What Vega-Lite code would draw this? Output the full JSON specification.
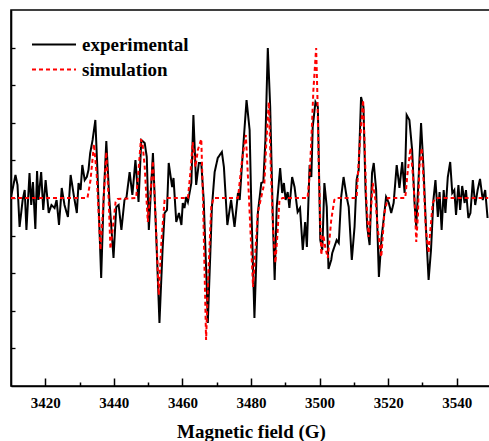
{
  "$schema": "https://vega.github.io/schema/vega-lite/v6.json",
  "autosize": {"type": "none"},
  "padding": {"left": 11, "top": 10, "right": 0, "bottom": 55},
  "width": 480,
  "height": 376,
  "background": "white",
  "config": {
    "view": {"stroke": "black", "strokeWidth": 1.6},
    "font": "Liberation Serif"
  },
  "data": {"values": [
    {"B":3410.0,"I":1,"s":"experimental"},{"B":3411.3,"I":23,"s":"experimental"},{"B":3411.9,"I":13,"s":"experimental"},{"B":3412.5,"I":-29,"s":"experimental"},{"B":3413.4,"I":-2,"s":"experimental"},{"B":3414.0,"I":8,"s":"experimental"},{"B":3414.5,"I":-32,"s":"experimental"},{"B":3415.4,"I":25,"s":"experimental"},{"B":3415.9,"I":-7,"s":"experimental"},{"B":3416.4,"I":16,"s":"experimental"},{"B":3417.1,"I":-31,"s":"experimental"},{"B":3417.6,"I":27,"s":"experimental"},{"B":3418.0,"I":-2,"s":"experimental"},{"B":3418.8,"I":26,"s":"experimental"},{"B":3419.4,"I":-12,"s":"experimental"},{"B":3420.1,"I":18,"s":"experimental"},{"B":3421.0,"I":-15,"s":"experimental"},{"B":3421.8,"I":-7,"s":"experimental"},{"B":3422.7,"I":-10,"s":"experimental"},{"B":3423.3,"I":-2,"s":"experimental"},{"B":3424.0,"I":-27,"s":"experimental"},{"B":3424.8,"I":10,"s":"experimental"},{"B":3425.6,"I":-7,"s":"experimental"},{"B":3426.6,"I":-19,"s":"experimental"},{"B":3427.4,"I":23,"s":"experimental"},{"B":3428.3,"I":3,"s":"experimental"},{"B":3429.2,"I":-15,"s":"experimental"},{"B":3429.7,"I":15,"s":"experimental"},{"B":3430.3,"I":8,"s":"experimental"},{"B":3430.8,"I":33,"s":"experimental"},{"B":3431.5,"I":18,"s":"experimental"},{"B":3432.1,"I":21,"s":"experimental"},{"B":3432.6,"I":28,"s":"experimental"},{"B":3433.1,"I":45,"s":"experimental"},{"B":3433.8,"I":58,"s":"experimental"},{"B":3434.6,"I":78,"s":"experimental"},{"B":3435.2,"I":28,"s":"experimental"},{"B":3436.3,"I":-80,"s":"experimental"},{"B":3437.0,"I":-2,"s":"experimental"},{"B":3437.8,"I":57,"s":"experimental"},{"B":3438.7,"I":-2,"s":"experimental"},{"B":3439.9,"I":-60,"s":"experimental"},{"B":3440.7,"I":-9,"s":"experimental"},{"B":3441.4,"I":-7,"s":"experimental"},{"B":3442.2,"I":-32,"s":"experimental"},{"B":3443.1,"I":-2,"s":"experimental"},{"B":3443.7,"I":1,"s":"experimental"},{"B":3444.6,"I":26,"s":"experimental"},{"B":3445.4,"I":3,"s":"experimental"},{"B":3446.3,"I":38,"s":"experimental"},{"B":3447.2,"I":-4,"s":"experimental"},{"B":3448.0,"I":58,"s":"experimental"},{"B":3449.0,"I":55,"s":"experimental"},{"B":3449.6,"I":41,"s":"experimental"},{"B":3450.2,"I":-32,"s":"experimental"},{"B":3451.4,"I":45,"s":"experimental"},{"B":3452.4,"I":-42,"s":"experimental"},{"B":3453.3,"I":-125,"s":"experimental"},{"B":3454.2,"I":-52,"s":"experimental"},{"B":3454.8,"I":-15,"s":"experimental"},{"B":3455.5,"I":-12,"s":"experimental"},{"B":3456.0,"I":35,"s":"experimental"},{"B":3457.0,"I":11,"s":"experimental"},{"B":3457.4,"I":20,"s":"experimental"},{"B":3458.2,"I":-24,"s":"experimental"},{"B":3459.0,"I":-15,"s":"experimental"},{"B":3459.7,"I":-27,"s":"experimental"},{"B":3460.1,"I":-5,"s":"experimental"},{"B":3460.6,"I":-10,"s":"experimental"},{"B":3461.1,"I":1,"s":"experimental"},{"B":3461.6,"I":-4,"s":"experimental"},{"B":3462.6,"I":15,"s":"experimental"},{"B":3463.2,"I":83,"s":"experimental"},{"B":3464.0,"I":13,"s":"experimental"},{"B":3464.8,"I":35,"s":"experimental"},{"B":3465.5,"I":35,"s":"experimental"},{"B":3466.2,"I":-2,"s":"experimental"},{"B":3467.1,"I":-89,"s":"experimental"},{"B":3467.4,"I":-125,"s":"experimental"},{"B":3468.1,"I":-59,"s":"experimental"},{"B":3468.6,"I":-9,"s":"experimental"},{"B":3469.4,"I":26,"s":"experimental"},{"B":3470.3,"I":40,"s":"experimental"},{"B":3471.5,"I":46,"s":"experimental"},{"B":3472.1,"I":31,"s":"experimental"},{"B":3473.1,"I":-27,"s":"experimental"},{"B":3474.2,"I":-2,"s":"experimental"},{"B":3475.2,"I":-29,"s":"experimental"},{"B":3476.2,"I":5,"s":"experimental"},{"B":3476.7,"I":-2,"s":"experimental"},{"B":3477.4,"I":35,"s":"experimental"},{"B":3478.7,"I":98,"s":"experimental"},{"B":3479.6,"I":68,"s":"experimental"},{"B":3480.1,"I":-9,"s":"experimental"},{"B":3481.0,"I":-120,"s":"experimental"},{"B":3482.0,"I":-15,"s":"experimental"},{"B":3483.0,"I":15,"s":"experimental"},{"B":3483.6,"I":16,"s":"experimental"},{"B":3484.2,"I":58,"s":"experimental"},{"B":3484.9,"I":150,"s":"experimental"},{"B":3485.6,"I":91,"s":"experimental"},{"B":3486.4,"I":-25,"s":"experimental"},{"B":3486.9,"I":-82,"s":"experimental"},{"B":3487.5,"I":-9,"s":"experimental"},{"B":3488.5,"I":30,"s":"experimental"},{"B":3489.1,"I":5,"s":"experimental"},{"B":3489.6,"I":15,"s":"experimental"},{"B":3490.1,"I":-2,"s":"experimental"},{"B":3490.7,"I":6,"s":"experimental"},{"B":3491.2,"I":-10,"s":"experimental"},{"B":3492.0,"I":21,"s":"experimental"},{"B":3492.7,"I":11,"s":"experimental"},{"B":3493.6,"I":-14,"s":"experimental"},{"B":3494.3,"I":-10,"s":"experimental"},{"B":3495.1,"I":-52,"s":"experimental"},{"B":3495.8,"I":-24,"s":"experimental"},{"B":3496.3,"I":-49,"s":"experimental"},{"B":3497.1,"I":33,"s":"experimental"},{"B":3497.6,"I":21,"s":"experimental"},{"B":3498.0,"I":71,"s":"experimental"},{"B":3498.8,"I":96,"s":"experimental"},{"B":3499.5,"I":91,"s":"experimental"},{"B":3500.2,"I":-42,"s":"experimental"},{"B":3500.8,"I":-52,"s":"experimental"},{"B":3501.4,"I":15,"s":"experimental"},{"B":3502.1,"I":-9,"s":"experimental"},{"B":3502.6,"I":-71,"s":"experimental"},{"B":3503.4,"I":-62,"s":"experimental"},{"B":3503.7,"I":-55,"s":"experimental"},{"B":3504.3,"I":-49,"s":"experimental"},{"B":3505.0,"I":-42,"s":"experimental"},{"B":3505.6,"I":-45,"s":"experimental"},{"B":3506.3,"I":1,"s":"experimental"},{"B":3507.0,"I":21,"s":"experimental"},{"B":3507.9,"I":1,"s":"experimental"},{"B":3508.5,"I":-9,"s":"experimental"},{"B":3509.4,"I":-62,"s":"experimental"},{"B":3510.2,"I":-29,"s":"experimental"},{"B":3510.8,"I":18,"s":"experimental"},{"B":3511.4,"I":28,"s":"experimental"},{"B":3512.1,"I":101,"s":"experimental"},{"B":3512.8,"I":91,"s":"experimental"},{"B":3513.4,"I":8,"s":"experimental"},{"B":3513.9,"I":-29,"s":"experimental"},{"B":3514.6,"I":-47,"s":"experimental"},{"B":3515.3,"I":25,"s":"experimental"},{"B":3515.8,"I":35,"s":"experimental"},{"B":3516.5,"I":8,"s":"experimental"},{"B":3517.3,"I":-79,"s":"experimental"},{"B":3518.1,"I":-39,"s":"experimental"},{"B":3518.9,"I":-15,"s":"experimental"},{"B":3519.4,"I":1,"s":"experimental"},{"B":3520.2,"I":-5,"s":"experimental"},{"B":3520.9,"I":-15,"s":"experimental"},{"B":3521.6,"I":-5,"s":"experimental"},{"B":3522.5,"I":33,"s":"experimental"},{"B":3523.3,"I":10,"s":"experimental"},{"B":3524.1,"I":36,"s":"experimental"},{"B":3524.8,"I":5,"s":"experimental"},{"B":3525.4,"I":83,"s":"experimental"},{"B":3526.2,"I":78,"s":"experimental"},{"B":3527.0,"I":48,"s":"experimental"},{"B":3527.7,"I":-5,"s":"experimental"},{"B":3528.2,"I":-29,"s":"experimental"},{"B":3528.9,"I":21,"s":"experimental"},{"B":3529.6,"I":75,"s":"experimental"},{"B":3530.3,"I":31,"s":"experimental"},{"B":3531.1,"I":-35,"s":"experimental"},{"B":3531.8,"I":-82,"s":"experimental"},{"B":3532.5,"I":-52,"s":"experimental"},{"B":3533.2,"I":-2,"s":"experimental"},{"B":3533.8,"I":18,"s":"experimental"},{"B":3534.5,"I":-19,"s":"experimental"},{"B":3535.0,"I":6,"s":"experimental"},{"B":3535.6,"I":-32,"s":"experimental"},{"B":3536.2,"I":8,"s":"experimental"},{"B":3536.7,"I":-15,"s":"experimental"},{"B":3537.4,"I":21,"s":"experimental"},{"B":3538.1,"I":36,"s":"experimental"},{"B":3538.7,"I":5,"s":"experimental"},{"B":3539.3,"I":8,"s":"experimental"},{"B":3539.8,"I":-17,"s":"experimental"},{"B":3540.5,"I":13,"s":"experimental"},{"B":3541.0,"I":-12,"s":"experimental"},{"B":3541.6,"I":12,"s":"experimental"},{"B":3542.3,"I":-5,"s":"experimental"},{"B":3542.7,"I":8,"s":"experimental"},{"B":3543.4,"I":-20,"s":"experimental"},{"B":3544.0,"I":-15,"s":"experimental"},{"B":3544.7,"I":18,"s":"experimental"},{"B":3545.4,"I":-7,"s":"experimental"},{"B":3546.1,"I":8,"s":"experimental"},{"B":3546.8,"I":19,"s":"experimental"},{"B":3547.6,"I":-2,"s":"experimental"},{"B":3548.3,"I":8,"s":"experimental"},{"B":3549.0,"I":-20,"s":"experimental"},
    {"B":3410.0,"I":0,"s":"simulation"},{"B":3432.3,"I":0,"s":"simulation"},{"B":3433.2,"I":18,"s":"simulation"},{"B":3434.2,"I":54,"s":"simulation"},{"B":3435.0,"I":23,"s":"simulation"},{"B":3436.1,"I":-52,"s":"simulation"},{"B":3437.0,"I":-2,"s":"simulation"},{"B":3437.8,"I":46,"s":"simulation"},{"B":3438.5,"I":-2,"s":"simulation"},{"B":3439.0,"I":-51,"s":"simulation"},{"B":3439.8,"I":-27,"s":"simulation"},{"B":3440.5,"I":-4,"s":"simulation"},{"B":3441.1,"I":-1,"s":"simulation"},{"B":3446.5,"I":0,"s":"simulation"},{"B":3447.2,"I":28,"s":"simulation"},{"B":3447.9,"I":59,"s":"simulation"},{"B":3448.4,"I":53,"s":"simulation"},{"B":3449.0,"I":31,"s":"simulation"},{"B":3449.9,"I":-24,"s":"simulation"},{"B":3450.6,"I":3,"s":"simulation"},{"B":3451.4,"I":37,"s":"simulation"},{"B":3452.2,"I":-22,"s":"simulation"},{"B":3453.1,"I":-97,"s":"simulation"},{"B":3453.9,"I":-42,"s":"simulation"},{"B":3454.8,"I":-2,"s":"simulation"},{"B":3455.4,"I":0,"s":"simulation"},{"B":3461.6,"I":0,"s":"simulation"},{"B":3462.4,"I":28,"s":"simulation"},{"B":3463.0,"I":56,"s":"simulation"},{"B":3463.8,"I":31,"s":"simulation"},{"B":3464.5,"I":48,"s":"simulation"},{"B":3465.5,"I":59,"s":"simulation"},{"B":3466.0,"I":-2,"s":"simulation"},{"B":3466.9,"I":-142,"s":"simulation"},{"B":3467.6,"I":-72,"s":"simulation"},{"B":3468.4,"I":-9,"s":"simulation"},{"B":3469.1,"I":0,"s":"simulation"},{"B":3476.2,"I":0,"s":"simulation"},{"B":3477.4,"I":38,"s":"simulation"},{"B":3478.5,"I":63,"s":"simulation"},{"B":3479.3,"I":8,"s":"simulation"},{"B":3480.6,"I":-89,"s":"simulation"},{"B":3481.3,"I":-52,"s":"simulation"},{"B":3482.0,"I":-14,"s":"simulation"},{"B":3483.0,"I":1,"s":"simulation"},{"B":3483.9,"I":15,"s":"simulation"},{"B":3484.5,"I":58,"s":"simulation"},{"B":3485.2,"I":96,"s":"simulation"},{"B":3485.8,"I":28,"s":"simulation"},{"B":3486.4,"I":-29,"s":"simulation"},{"B":3487.1,"I":-65,"s":"simulation"},{"B":3487.7,"I":-37,"s":"simulation"},{"B":3488.3,"I":-2,"s":"simulation"},{"B":3489.2,"I":0,"s":"simulation"},{"B":3496.5,"I":0,"s":"simulation"},{"B":3497.1,"I":23,"s":"simulation"},{"B":3497.6,"I":58,"s":"simulation"},{"B":3498.2,"I":108,"s":"simulation"},{"B":3499.0,"I":150,"s":"simulation"},{"B":3499.4,"I":98,"s":"simulation"},{"B":3499.8,"I":25,"s":"simulation"},{"B":3500.5,"I":-57,"s":"simulation"},{"B":3501.1,"I":-37,"s":"simulation"},{"B":3501.7,"I":-50,"s":"simulation"},{"B":3502.4,"I":-60,"s":"simulation"},{"B":3503.4,"I":-22,"s":"simulation"},{"B":3504.3,"I":-2,"s":"simulation"},{"B":3504.9,"I":0,"s":"simulation"},{"B":3510.8,"I":0,"s":"simulation"},{"B":3511.6,"I":48,"s":"simulation"},{"B":3512.7,"I":98,"s":"simulation"},{"B":3513.1,"I":58,"s":"simulation"},{"B":3513.6,"I":1,"s":"simulation"},{"B":3514.3,"I":-39,"s":"simulation"},{"B":3515.0,"I":-12,"s":"simulation"},{"B":3515.5,"I":15,"s":"simulation"},{"B":3516.3,"I":-2,"s":"simulation"},{"B":3517.0,"I":-32,"s":"simulation"},{"B":3518.0,"I":-59,"s":"simulation"},{"B":3518.9,"I":-15,"s":"simulation"},{"B":3519.9,"I":0,"s":"simulation"},{"B":3525.0,"I":0,"s":"simulation"},{"B":3525.6,"I":23,"s":"simulation"},{"B":3526.5,"I":50,"s":"simulation"},{"B":3527.1,"I":28,"s":"simulation"},{"B":3527.7,"I":-2,"s":"simulation"},{"B":3528.2,"I":-44,"s":"simulation"},{"B":3528.7,"I":-17,"s":"simulation"},{"B":3529.1,"I":31,"s":"simulation"},{"B":3529.8,"I":50,"s":"simulation"},{"B":3530.4,"I":13,"s":"simulation"},{"B":3531.0,"I":-32,"s":"simulation"},{"B":3531.8,"I":-55,"s":"simulation"},{"B":3532.2,"I":-37,"s":"simulation"},{"B":3533.0,"I":-5,"s":"simulation"},{"B":3533.8,"I":0,"s":"simulation"},{"B":3549.2,"I":0,"s":"simulation"}
  ]},
  "mark": {"type": "line", "strokeWidth": 2, "clip": true},
  "encoding": {
    "x": {
      "field": "B", "type": "quantitative",
      "scale": {"domain": [3410, 3550], "nice": false, "zero": false},
      "axis": {
        "title": "Magnetic field (G)",
        "titleFont": "Liberation Serif", "titleFontWeight": "bold", "titleFontSize": 19, "titleColor": "black", "titlePadding": 8,
        "values": [3420, 3430, 3440, 3450, 3460, 3470, 3480, 3490, 3500, 3510, 3520, 3530, 3540],
        "labelExpr": "datum.value % 20 == 0 ? datum.label : ''",
        "format": "d",
        "labelFont": "Liberation Serif", "labelFontWeight": "bold", "labelFontSize": 15, "labelColor": "black",
        "labelPadding": 17, "labelFlush": false, "labelOverlap": false,
        "grid": false,
        "domainColor": "black", "domainWidth": 1.6,
        "tickColor": "black", "tickWidth": 1.5,
        "tickSize": {"condition": {"test": "datum.value % 20 == 0", "value": -8}, "value": -4}
      }
    },
    "y": {
      "field": "I", "type": "quantitative",
      "scale": {"domain": [-188, 188], "nice": false, "zero": false},
      "axis": {
        "title": null, "labels": false, "grid": false,
        "values": [-150.4, -112.8, -75.2, -37.6, 0, 37.6, 75.2, 112.8, 150.4],
        "domainColor": "black", "domainWidth": 1.6,
        "tickColor": "black", "tickWidth": 1.3, "tickSize": -4
      }
    },
    "color": {
      "field": "s", "type": "nominal",
      "scale": {"domain": ["experimental", "simulation"], "range": ["black", "#ff0000"]},
      "legend": {
        "orient": "none", "legendX": 20, "legendY": 22, "title": null, "padding": 0,
        "symbolType": "stroke", "symbolSize": 1936, "symbolStrokeWidth": 2,
        "labelFont": "Liberation Serif", "labelFontWeight": "bold", "labelFontSize": 19, "labelColor": "black",
        "labelOffset": 5, "rowPadding": 0, "clipHeight": 25, "labelLimit": 300
      }
    },
    "strokeDash": {
      "field": "s", "type": "nominal",
      "scale": {"domain": ["experimental", "simulation"], "range": [[1, 0], [4, 3]]},
      "legend": {
        "orient": "none", "legendX": 20, "legendY": 22, "title": null, "padding": 0,
        "symbolType": "stroke", "symbolSize": 1936, "symbolStrokeWidth": 2,
        "labelFont": "Liberation Serif", "labelFontWeight": "bold", "labelFontSize": 19, "labelColor": "black",
        "labelOffset": 5, "rowPadding": 0, "clipHeight": 25, "labelLimit": 300
      }
    }
  }
}
